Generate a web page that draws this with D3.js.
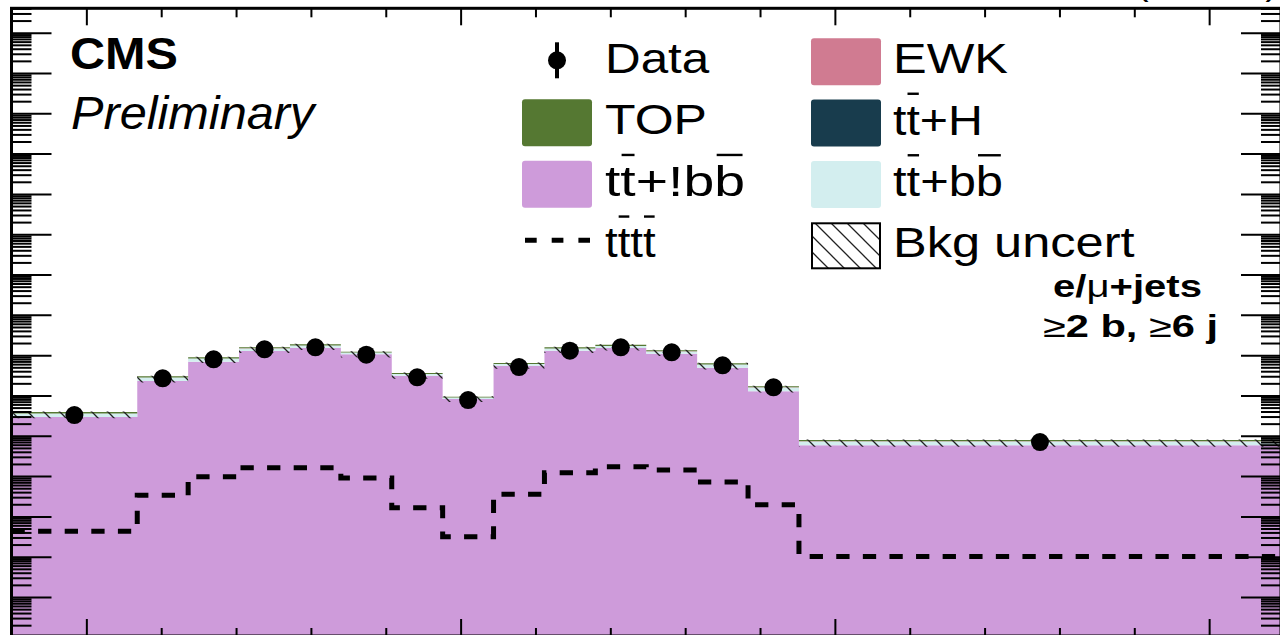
<!DOCTYPE html>
<html>
<head>
<meta charset="utf-8">
<script src="https://cdn.jsdelivr.net/npm/d3@7"></script>
<style>
  body { margin: 0; background: #fff; }
  svg { display: block; }
  text { font-family: "Liberation Sans", Arial, Helvetica, sans-serif; fill: #000; }
</style>
</head>
<body>
<svg id="chart"></svg>
<script>
/* global d3 */

const WIDTH = 1280;
const HEIGHT = 635;

// bin edges on the x axis (15 bins)
const binEdges = [400, 568, 636, 704, 772, 840, 908, 976, 1044, 1112, 1180, 1248, 1316, 1384, 1452, 2096];

// stacked backgrounds, bottom to top
const ttNoBB = [29200, 228000, 688000, 1270000, 1530000, 1050000, 309000, 81600, 547000, 1290000, 1500000, 1090000, 488000, 127000, 5800];
const ttBB   = [6450, 50400, 138000, 194000, 205000, 113000, 31500, 7340, 55800, 173000, 182000, 146000, 97600, 30900, 1410];
const ttH    = [150, 1100, 3300, 5800, 6900, 4600, 1300, 350, 2400, 5800, 6700, 4900, 2300, 620, 30];
const ewk    = [120, 900, 2500, 4200, 5000, 3400, 1000, 280, 1900, 4400, 5000, 3700, 1800, 500, 25];
const topBkg = [2940, 18300, 52300, 91000, 110000, 46000, 17700, 3530, 31200, 91800, 122000, 73400, 37800, 9700, 585];

// relative background uncertainty (up / down)
const uncUp   = [0.03, 0.03, 0.03, 0.03, 0.03, 0.03, 0.03, 0.03, 0.03, 0.03, 0.03, 0.03, 0.03, 0.03, 0.03];
const uncDown = [0.30, 0.30, 0.28, 0.28, 0.28, 0.28, 0.28, 0.26, 0.28, 0.28, 0.28, 0.28, 0.30, 0.30, 0.32];

const dataCounts = [32700, 266000, 788000, 1400000, 1565000, 1025000, 282000, 77100, 508000, 1290000, 1565000, 1180000, 560000, 159000, 7000];
const tttt = [42.6, 333, 965, 1613, 1613, 896, 163, 31.3, 353, 1212, 1708, 1415, 713, 195, 10.1];

// axis limits
const xMin = 400, xMax = 2096;
const yMin = 0.1078, yMax = 4.03e14;

const COLORS = {
  ttNoBB: '#CE9BDA',
  ttBB:   '#D3EEEF',
  ttH:    '#183C4D',
  ewk:    '#D07B91',
  top:    '#557832',
};

const frame = { left: 11.5, right: 1281, top: 8.3, bottom: 636 };

const x = d3.scaleLinear().domain([xMin, xMax]).range([frame.left, frame.right]);
const y = d3.scaleLog().domain([yMin, yMax]).range([frame.bottom, frame.top]);

const svg = d3.select('#chart').attr('width', WIDTH).attr('height', HEIGHT);
const defs = svg.append('defs');

defs.append('clipPath').attr('id', 'plot-clip')
  .append('rect')
  .attr('x', frame.left).attr('y', frame.top)
  .attr('width', frame.right - frame.left).attr('height', frame.bottom - frame.top);

const hatch = defs.append('pattern')
  .attr('id', 'hatch')
  .attr('patternUnits', 'userSpaceOnUse')
  .attr('width', 16).attr('height', 16);
hatch.append('path')
  .attr('d', 'M0,0 L16,16 M-8,8 L8,24 M8,-8 L24,8')
  .attr('stroke', '#222').attr('stroke-width', 1.3);

const plot = svg.append('g').attr('clip-path', 'url(#plot-clip)');

const lastBin = binEdges.length - 2;
const stepPoints = (lo, hi) => binEdges.map((e, i) => {
  const b = Math.min(i, lastBin);
  return { e, lo: lo[b], hi: hi[b] };
});

const stepArea = d3.area()
  .curve(d3.curveStepAfter)
  .x(d => x(d.e))
  .y0(d => y(d.lo))
  .y1(d => y(d.hi));

//-------------------------------------------------
// stacked histogram

const layers = [
  { values: ttNoBB, color: COLORS.ttNoBB },
  { values: ttBB,   color: COLORS.ttBB },
  { values: ttH,    color: COLORS.ttH },
  { values: ewk,    color: COLORS.ewk },
  { values: topBkg, color: COLORS.top },
];

let cum = ttNoBB.map(() => 0);
layers.forEach((layer) => {
  const lo = cum.map(c => (c > 0 ? c : yMin));
  const hi = cum.map((c, i) => c + layer.values[i]);
  plot.append('path')
    .attr('d', stepArea(stepPoints(lo, hi)))
    .attr('fill', layer.color);
  cum = hi;
});
const total = cum;

// uncertainty band
plot.append('path')
  .attr('d', stepArea(stepPoints(
    total.map((t, i) => t * (1 - uncDown[i])),
    total.map((t, i) => t * (1 + uncUp[i])),
  )))
  .attr('fill', 'url(#hatch)');

// tttt signal
const stepLine = d3.line()
  .curve(d3.curveStepAfter)
  .x(d => x(d.e))
  .y(d => y(d.hi));

plot.append('path')
  .attr('d', stepLine(stepPoints(tttt, tttt)))
  .attr('fill', 'none')
  .attr('stroke', '#000')
  .attr('stroke-width', 5)
  .attr('stroke-dasharray', '13.3,13.3');

// data
const binCenter = i => (binEdges[i] + binEdges[i + 1]) / 2;
plot.selectAll('circle.data')
  .data(dataCounts)
  .enter()
  .append('circle')
  .attr('class', 'data')
  .attr('cx', (d, i) => x(binCenter(i)))
  .attr('cy', d => y(d))
  .attr('r', 9)
  .attr('fill', '#000');

//-------------------------------------------------
// axes and frame

const majorY = d3.range(0, 15).map(k => 10 ** k);
const minorY = [];
d3.range(-1, 15).forEach((k) => {
  d3.range(2, 10).forEach((m) => {
    const v = m * 10 ** k;
    if (v > yMin && v < yMax) minorY.push(v);
  });
});
const majorX = [500, 1000, 1500, 2000];
const minorX = d3.range(500, 2100, 100).filter(v => !majorX.includes(v));

const drawAxis = (axis, transform) => {
  svg.append('g')
    .attr('transform', transform)
    .call(axis.tickFormat(''))
    .call(g => g.select('.domain').remove())
    .call(g => g.selectAll('line').attr('stroke', '#000').attr('stroke-width', 2));
};

drawAxis(d3.axisRight(y).tickValues(majorY).tickSize(40), `translate(${frame.left},0)`);
drawAxis(d3.axisRight(y).tickValues(minorY).tickSize(20), `translate(${frame.left},0)`);
drawAxis(d3.axisLeft(y).tickValues(majorY).tickSize(40), `translate(${frame.right},0)`);
drawAxis(d3.axisLeft(y).tickValues(minorY).tickSize(20), `translate(${frame.right},0)`);
drawAxis(d3.axisBottom(x).tickValues(majorX).tickSize(17), `translate(0,${frame.top})`);
drawAxis(d3.axisBottom(x).tickValues(minorX).tickSize(9), `translate(0,${frame.top})`);
drawAxis(d3.axisTop(x).tickValues(majorX).tickSize(17), `translate(0,${frame.bottom})`);
drawAxis(d3.axisTop(x).tickValues(minorX).tickSize(8), `translate(0,${frame.bottom})`);

svg.append('rect')
  .attr('x', frame.left).attr('y', frame.top)
  .attr('width', frame.right - frame.left).attr('height', frame.bottom - frame.top)
  .attr('fill', 'none').attr('stroke', '#000').attr('stroke-width', 3);

//-------------------------------------------------
// texts: fitted to the width they take in the picture

const addText = function (opts) {
  const g = svg.append('g');
  const t = g.append('text')
    .attr('font-size', opts.size)
    .attr('font-weight', opts.weight || 'normal')
    .attr('font-style', opts.style || 'normal');
  opts.parts.forEach((p) => {
    t.append('tspan')
      .attr('font-weight', p.weight || null)
      .text(p.text);
  });
  (opts.over || []).forEach((i) => {
    const ext = t.node().getExtentOfChar(i);
    g.append('line')
      .attr('x1', ext.x + ext.width * 0.08)
      .attr('x2', ext.x + ext.width * 0.92)
      .attr('y1', -opts.size * 0.97)
      .attr('y2', -opts.size * 0.97)
      .attr('stroke', '#000')
      .attr('stroke-width', 2.4);
  });
  const bb = t.node().getBBox();
  const s = opts.width / bb.width;
  g.attr('transform', `translate(${opts.x - bb.x * s},${opts.y}) scale(${s},1)`);
};

addText({ x: 70, y: 68.5, size: 44, weight: 'bold', width: 108, parts: [{ text: 'CMS' }] });
addText({ x: 71, y: 128.5, size: 47, style: 'italic', width: 246, parts: [{ text: 'Preliminary' }] });

addText({ x: 1053, y: 296.7, size: 31, weight: 'bold', width: 149,
  parts: [{ text: 'e/' }, { text: 'μ', weight: 'normal' }, { text: '+jets' }] });
addText({ x: 1043, y: 336.7, size: 31, weight: 'bold', width: 175,
  parts: [{ text: '≥', weight: 'normal' }, { text: '2 b, ' }, { text: '≥', weight: 'normal' }, { text: '6 j' }] });

// header above the frame, only the bottom of its brackets shows
addText({ x: 1136, y: -5, size: 36, width: 142, parts: [{ text: '(13 TeV)' }] });

//-------------------------------------------------
// legend

const legendLeft = [
  { label: 'Data', type: 'data', y: 73.3, width: 105 },
  { label: 'TOP', type: 'box', color: COLORS.top, y: 134.3, width: 102 },
  { label: 'tt+!bb', type: 'box', color: COLORS.ttNoBB, y: 195.7, width: 140, over: [1, 5] },
  { label: 'tttt', type: 'dash', y: 257.3, width: 51, over: [1, 3] },
];
const legendRight = [
  { label: 'EWK', type: 'box', color: COLORS.ewk, y: 73.3, width: 115 },
  { label: 'tt+H', type: 'box', color: COLORS.ttH, y: 134.5, width: 90, over: [1] },
  { label: 'tt+bb', type: 'box', color: COLORS.ttBB, y: 196, width: 110, over: [1, 4] },
  { label: 'Bkg uncert', type: 'hatch', y: 257.3, width: 242 },
];

const drawLegendColumn = function (entries, boxX, textX) {
  entries.forEach((d) => {
    const boxTop = d.y - 35;
    if (d.type === 'box') {
      svg.append('rect')
        .attr('x', boxX).attr('y', boxTop)
        .attr('width', 70).attr('height', 47)
        .attr('rx', 3)
        .attr('fill', d.color);
    } else if (d.type === 'hatch') {
      svg.append('rect')
        .attr('x', boxX + 1).attr('y', boxTop + 1)
        .attr('width', 68).attr('height', 45)
        .attr('fill', 'url(#hatch)')
        .attr('stroke', '#000').attr('stroke-width', 2);
    } else if (d.type === 'data') {
      svg.append('line')
        .attr('x1', boxX + 35).attr('x2', boxX + 35)
        .attr('y1', d.y - 31).attr('y2', d.y + 5)
        .attr('stroke', '#000').attr('stroke-width', 4);
      svg.append('circle')
        .attr('cx', boxX + 35).attr('cy', d.y - 13)
        .attr('r', 9).attr('fill', '#000');
    } else if (d.type === 'dash') {
      svg.append('line')
        .attr('x1', boxX + 3).attr('x2', boxX + 68)
        .attr('y1', d.y - 17).attr('y2', d.y - 17)
        .attr('stroke', '#000').attr('stroke-width', 5)
        .attr('stroke-dasharray', '11.7,15');
    }
    addText({ x: textX, y: d.y, size: 42, width: d.width, parts: [{ text: d.label }], over: d.over });
  });
};

drawLegendColumn(legendLeft, 522, 605);
drawLegendColumn(legendRight, 811, 893);
</script>
</body>
</html>
